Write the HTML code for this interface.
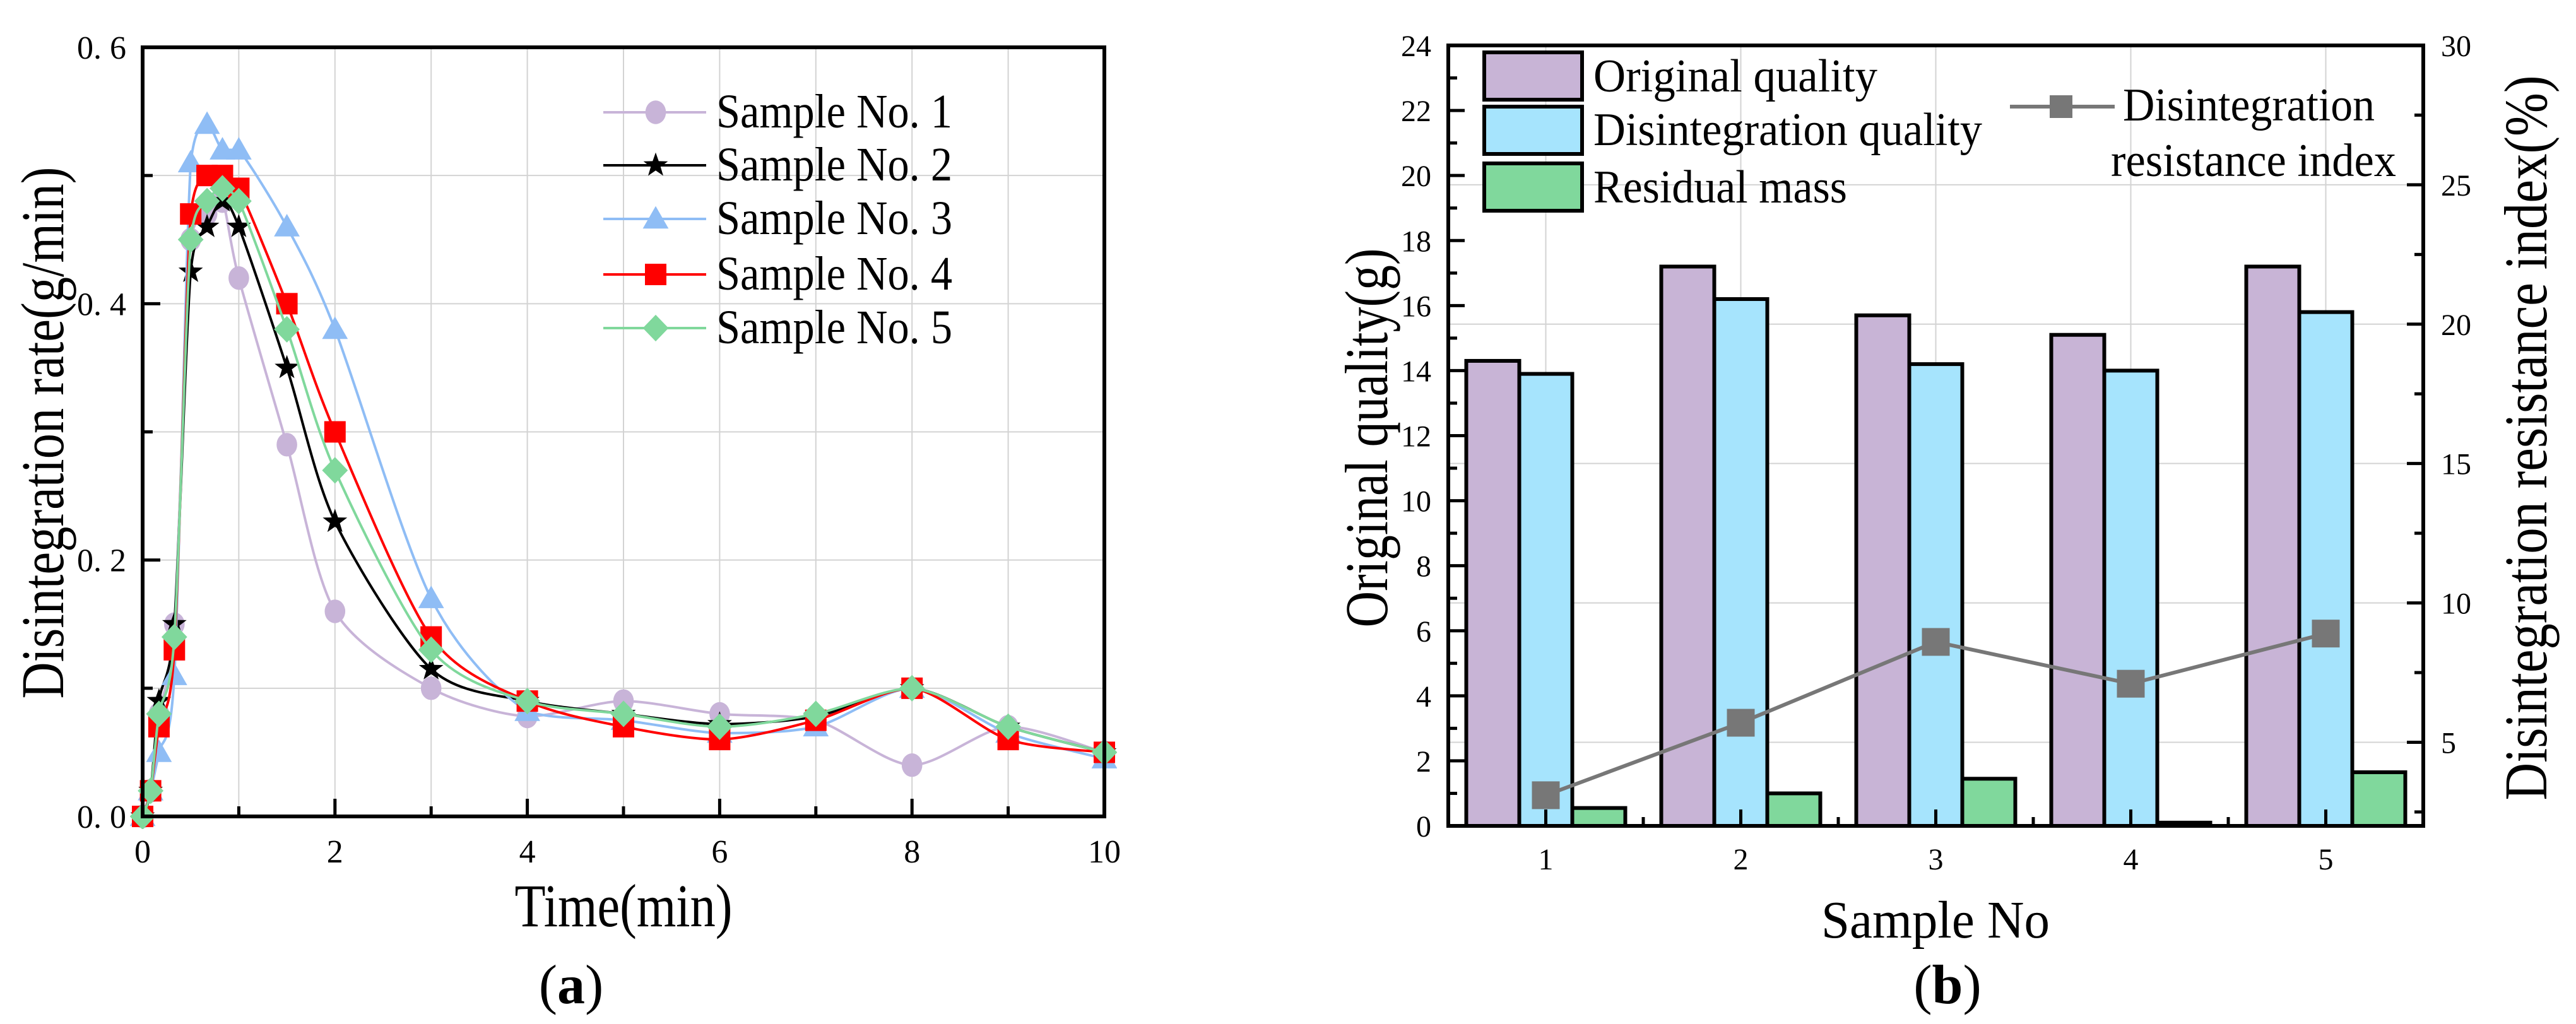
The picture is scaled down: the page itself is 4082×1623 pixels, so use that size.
<!DOCTYPE html>
<html><head><meta charset="utf-8"><style>
html,body{margin:0;padding:0;background:#fff;}
svg{display:block;font-family:"Liberation Serif",serif;}
</style></head><body>
<svg id="s" width="4082" height="1623" viewBox="0 0 4082 1623" xmlns="http://www.w3.org/2000/svg">
<g id="ga"></g>
<g id="gb"></g>
</svg>
<script>
// ---- Chart (a) data ----
const tX = [0, 0.083, 0.17, 0.33, 0.5, 0.67, 0.83, 1, 1.5, 2, 3, 4, 5, 6, 7, 8, 9, 10];
const s1 = [0, 0.02, 0.08, 0.15, 0.45, 0.47, 0.48, 0.42, 0.29, 0.16, 0.10, 0.078, 0.09, 0.08, 0.075, 0.04, 0.07, 0.05];
const s2 = [0, 0.02, 0.09, 0.15, 0.425, 0.46, 0.48, 0.46, 0.35, 0.23, 0.115, 0.09, 0.08, 0.072, 0.078, 0.10, 0.07, 0.05];
const s3 = [0, 0.02, 0.05, 0.11, 0.51, 0.54, 0.52, 0.52, 0.46, 0.38, 0.17, 0.082, 0.075, 0.065, 0.07, 0.10, 0.065, 0.045];
const s4 = [0, 0.02, 0.07, 0.13, 0.47, 0.50, 0.50, 0.49, 0.40, 0.30, 0.14, 0.09, 0.07, 0.06, 0.075, 0.10, 0.06, 0.05];
const s5 = [0, 0.02, 0.08, 0.14, 0.45, 0.48, 0.49, 0.48, 0.38, 0.27, 0.13, 0.09, 0.08, 0.07, 0.08, 0.10, 0.07, 0.05];
const seriesNames = ["Sample No. 1", "Sample No. 2", "Sample No. 3", "Sample No. 4", "Sample No. 5"];
const xTicksA = [0, 2, 4, 6, 8, 10];
const yTicksA = ["0. 0", "0. 2", "0. 4", "0. 6"];
const yTickValsA = [0, 0.2, 0.4, 0.6];
// ---- Chart (b) data ----
const samples = ["1", "2", "3", "4", "5"];
const originalQ = [14.3, 17.2, 15.7, 15.1, 17.2];
const disintQ = [13.9, 16.2, 14.2, 14.0, 15.8];
const residual = [0.55, 1.0, 1.45, 0.1, 1.65];
const resistIdx = [3.1, 5.7, 8.6, 7.1, 8.9];
const yTicksBL = [0, 2, 4, 6, 8, 10, 12, 14, 16, 18, 20, 22, 24];
const yTicksBR = [5, 10, 15, 20, 25, 30];

const NS = "http://www.w3.org/2000/svg";
function mk(parent, tag, attrs, text) {
  const e = document.createElementNS(NS, tag);
  for (const k in attrs) e.setAttribute(k, attrs[k]);
  if (text !== undefined) e.textContent = text;
  parent.appendChild(e);
  return e;
}
const ga = document.getElementById('ga');
const gb = document.getElementById('gb');

// ===== Chart A =====
const AL = 226, AR = 1750, AT = 75, AB = 1294;
const ax = v => AL + (v - 0) / 10 * (AR - AL);
const ay = v => AB - v / 0.6 * (AB - AT);
for (let i = 1; i < 10; i++) {
  const l = mk(ga, 'line', {x1: ax(i), x2: ax(i), y1: AT, y2: AB, stroke: '#d3d3d3', 'stroke-width': 2});
  
  
}
for (let i = 1; i < 6; i++) {
  const l = mk(ga, 'line', {x1: AL, x2: AR, y1: ay(i * 0.1), y2: ay(i * 0.1), stroke: '#d3d3d3', 'stroke-width': 2});
  
  
}
const colorsA = ['#c8b4d8', '#000000', '#8fbdf5', '#ff0000', '#80d89c'];
const allS = [s1, s2, s3, s4, s5];
function clampv(v, a, b) { const lo = Math.min(a, b), hi = Math.max(a, b); return Math.max(lo, Math.min(hi, v)); }
function smoothPath(pts) {
  let d = `M${pts[0][0]},${pts[0][1]}`;
  for (let i = 0; i < pts.length - 1; i++) {
    const p0 = pts[i - 1] || pts[i], p1 = pts[i], p2 = pts[i + 1], p3 = pts[i + 2] || p2;
    const t = 0.14;
    const c1 = [p1[0] + (p2[0] - p0[0]) * t, clampv(p1[1] + (p2[1] - p0[1]) * t, p1[1], p2[1])];
    const c2 = [p2[0] - (p3[0] - p1[0]) * t, clampv(p2[1] - (p3[1] - p1[1]) * t, p1[1], p2[1])];
    d += ` C${c1[0]},${c1[1]} ${c2[0]},${c2[1]} ${p2[0]},${p2[1]}`;
  }
  return d;
}
function marker(g, type, x, y, color, sz) {
  let e;
  if (type === 0) e = mk(g, 'ellipse', {cx: x, cy: y, rx: sz * 0.48, ry: sz * 0.55, fill: color});
  else if (type === 1) {
    let p = [];
    for (let k = 0; k < 10; k++) {
      const r = k % 2 ? sz * 0.24 : sz * 0.6, a = -Math.PI / 2 + k * Math.PI / 5;
      p.push((x + r * Math.cos(a)).toFixed(1) + ',' + (y + r * Math.sin(a)).toFixed(1));
    }
    e = mk(g, 'polygon', {points: p.join(' '), fill: color});
  } else if (type === 2) e = mk(g, 'polygon', {points: `${x},${y - sz * 0.6} ${x - sz * 0.6},${y + sz * 0.45} ${x + sz * 0.6},${y + sz * 0.45}`, fill: color});
  else if (type === 3) e = mk(g, 'rect', {x: x - sz / 2, y: y - sz / 2, width: sz, height: sz, fill: color});
  else e = mk(g, 'polygon', {points: `${x},${y - sz * 0.62} ${x + sz * 0.6},${y} ${x},${y + sz * 0.62} ${x - sz * 0.6},${y}`, fill: color});
  return e;
}
const clip = mk(ga, 'clipPath', {id: 'clipA'});
mk(clip, 'rect', {x: AL - 20, y: AT, width: AR - AL + 40, height: AB - AT + 20});
allS.forEach((s, si) => {
  const g = mk(ga, 'g', {'clip-path': 'url(#clipA)'});
  
  
  const pts = s.map((v, i) => [ax(tX[i]), ay(v)]);
  const p = mk(g, 'path', {d: smoothPath(pts), fill: 'none', stroke: colorsA[si], 'stroke-width': 4});
  
  
  pts.forEach(pt => {
    const m = marker(g, si, pt[0], pt[1], colorsA[si], 34);
    
    
  });
});
const frA = mk(ga, 'rect', {x: AL, y: AT, width: AR - AL, height: AB - AT, fill: 'none', stroke: '#000', 'stroke-width': 6});


for (let i = 0; i <= 10; i++) {
  const len = i % 2 === 0 ? 28 : 16;
  const t = mk(ga, 'line', {x1: ax(i), x2: ax(i), y1: AB, y2: AB - len, stroke: '#000', 'stroke-width': 5});
  
  
}
for (let i = 0; i <= 6; i++) {
  const len = i % 2 === 0 ? 28 : 16;
  const t = mk(ga, 'line', {x1: AL, x2: AL + len, y1: ay(i * 0.1), y2: ay(i * 0.1), stroke: '#000', 'stroke-width': 5});
  
  
}
xTicksA.forEach(v => {
  const t = mk(ga, 'text', {x: ax(v), y: AB + 73, 'font-size': 52, 'text-anchor': 'middle'}, String(v));
  
  
});
yTicksA.forEach((lab, i) => {
  const t = mk(ga, 'text', {x: 200, y: ay(yTickValsA[i]) + 18, 'font-size': 52, 'text-anchor': 'end'}, lab);
  
  
});
let t;
t = mk(ga, 'text', {x: 988, y: 1468, 'font-size': 96, 'text-anchor': 'middle', textLength: 345, lengthAdjust: 'spacingAndGlyphs'}, 'Time(min)');


t = mk(ga, 'text', {x: 0, y: 0, 'font-size': 96, 'text-anchor': 'middle', transform: 'translate(100,686) rotate(-90)', textLength: 843, lengthAdjust: 'spacingAndGlyphs'}, 'Disintegration rate(g/min)');


t = mk(ga, 'text', {x: 905, y: 1590, 'font-size': 88, 'text-anchor': 'middle'});
t.innerHTML = '(<tspan font-weight="bold">a</tspan>)';


const legYs = [178, 262, 347, 435, 520];
seriesNames.forEach((n, i) => {
  const g = mk(ga, 'g', {});
  
  
  mk(g, 'line', {x1: 956, x2: 1119, y1: legYs[i], y2: legYs[i], stroke: colorsA[i], 'stroke-width': 4});
  marker(g, i, 1039, legYs[i], colorsA[i], 34);
  mk(g, 'text', {x: 1135, y: legYs[i] + 24, 'font-size': 76, textLength: 374, lengthAdjust: 'spacingAndGlyphs'}, n);
});

// ===== Chart B =====
const BL = 2295, BR = 3840, BT = 72, BB = 1309;
const bx = i => BL + (i + 0.5) * (BR - BL) / 5;
const byL = v => BB - v / 24 * (BB - BT);
const byR = v => BB - (v - 2) / 28 * (BB - BT);
yTicksBR.forEach(v => {
  if (v === 30) return;
  const l = mk(gb, 'line', {x1: BL, x2: BR, y1: byR(v), y2: byR(v), stroke: '#d3d3d3', 'stroke-width': 2});
  
  
});
samples.forEach((s, i) => {
  const l = mk(gb, 'line', {x1: bx(i), x2: bx(i), y1: BT, y2: BB, stroke: '#d3d3d3', 'stroke-width': 2});
  
  
});
const bw = 84;
const barSets = [[originalQ, '#c8b4d6', 'bar-original'], [disintQ, '#a6e4fd', 'bar-disintegration'], [residual, '#80d89c', 'bar-residual']];
barSets.forEach((set, k) => {
  set[0].forEach((v, i) => {
    const x = bx(i) - 1.5 * bw + k * bw;
    const r = mk(gb, 'rect', {x: x, y: byL(v), width: bw, height: BB - byL(v), fill: set[1], stroke: '#000', 'stroke-width': 6});
    
    
  });
});
const frB = mk(gb, 'rect', {x: BL, y: BT, width: BR - BL, height: BB - BT, fill: 'none', stroke: '#000', 'stroke-width': 6});


for (let v = 0; v <= 24; v++) {
  const len = v % 2 === 0 ? 26 : 14;
  const l = mk(gb, 'line', {x1: BL, x2: BL + len, y1: byL(v), y2: byL(v), stroke: '#000', 'stroke-width': 5});
  
  
}
for (let v = 2.5; v <= 30; v += 2.5) {
  const len = v % 5 === 0 ? 26 : 14;
  const l = mk(gb, 'line', {x1: BR, x2: BR - len, y1: byR(v), y2: byR(v), stroke: '#000', 'stroke-width': 5});
  
  
}
for (let i = 0; i < 5; i++) {
  let l = mk(gb, 'line', {x1: bx(i), x2: bx(i), y1: BB, y2: BB - 26, stroke: '#000', 'stroke-width': 5});
  
  
  if (i < 4) {
    l = mk(gb, 'line', {x1: bx(i + 0.5), x2: bx(i + 0.5), y1: BB, y2: BB - 14, stroke: '#000', 'stroke-width': 5});
    
    
  }
}
yTicksBL.forEach(v => {
  const e = mk(gb, 'text', {x: 2268, y: byL(v) + 17, 'font-size': 48, 'text-anchor': 'end'}, String(v));
  
  
});
yTicksBR.forEach(v => {
  const e = mk(gb, 'text', {x: 3868, y: byR(v) + 17, 'font-size': 48}, String(v));
  
  
});
samples.forEach((s, i) => {
  const e = mk(gb, 'text', {x: bx(i), y: 1378, 'font-size': 48, 'text-anchor': 'middle'}, s);
  
  
});
const ptsB = resistIdx.map((v, i) => `${bx(i)},${byR(v)}`).join(' ');
const pl = mk(gb, 'polyline', {points: ptsB, fill: 'none', stroke: '#777', 'stroke-width': 6});


resistIdx.forEach((v, i) => {
  const r = mk(gb, 'rect', {x: bx(i) - 22, y: byR(v) - 22, width: 44, height: 44, fill: '#777'});
  
  
});
const legB = [['Original quality', '#c8b4d6', 83, 145, 450], ['Disintegration quality', '#a6e4fd', 169, 230, 616], ['Residual mass', '#80d89c', 259, 321, 402]];
legB.forEach((L, i) => {
  const g = mk(gb, 'g', {});
  
  
  mk(g, 'rect', {x: 2352, y: L[2], width: 155, height: 75, fill: L[1], stroke: '#000', 'stroke-width': 6});
  mk(g, 'text', {x: 2525, y: L[3], 'font-size': 74, textLength: L[4], lengthAdjust: 'spacingAndGlyphs'}, L[0]);
});
const gl = mk(gb, 'g', {});


mk(gl, 'line', {x1: 3185, x2: 3351, y1: 169, y2: 169, stroke: '#777', 'stroke-width': 6});
mk(gl, 'rect', {x: 3248, y: 151, width: 36, height: 36, fill: '#777'});
mk(gl, 'text', {x: 3364, y: 191, 'font-size': 74, textLength: 399, lengthAdjust: 'spacingAndGlyphs'}, 'Disintegration');
mk(gl, 'text', {x: 3345, y: 279, 'font-size': 74, textLength: 452, lengthAdjust: 'spacingAndGlyphs'}, 'resistance index');
t = mk(gb, 'text', {x: 3067, y: 1486, 'font-size': 84, 'text-anchor': 'middle', textLength: 362, lengthAdjust: 'spacingAndGlyphs'}, 'Sample No');


t = mk(gb, 'text', {x: 3086, y: 1590, 'font-size': 88, 'text-anchor': 'middle'});
t.innerHTML = '(<tspan font-weight="bold">b</tspan>)';


t = mk(gb, 'text', {x: 0, y: 0, 'font-size': 96, 'text-anchor': 'middle', transform: 'translate(2198,694) rotate(-90)', textLength: 601, lengthAdjust: 'spacingAndGlyphs'}, 'Original quality(g)');


t = mk(gb, 'text', {x: 0, y: 0, 'font-size': 96, 'text-anchor': 'middle', transform: 'translate(4035,694) rotate(-90)', textLength: 1149, lengthAdjust: 'spacingAndGlyphs'}, 'Disintegration resistance index(%)');


</script>
</body></html>
